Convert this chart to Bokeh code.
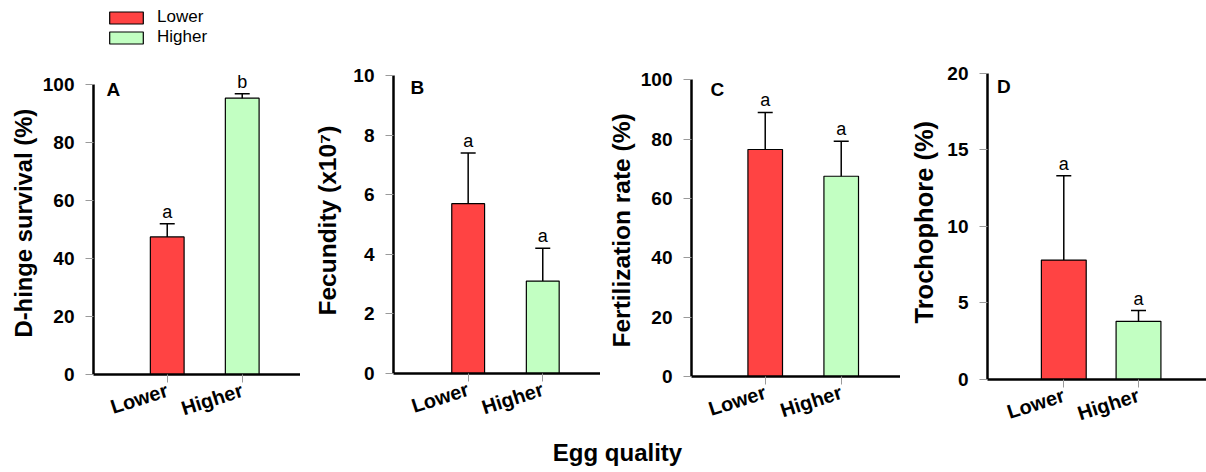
from bokeh.plotting import figure
from bokeh.models import (Range1d, FixedTicker, ColumnDataSource, Whisker, TeeHead,
                          Label, Legend, LegendItem, Title)
from bokeh.layouts import row, column
from bokeh.embed import file_html
from bokeh.resources import INLINE
from bokeh.core.properties import value

FONT = "Liberation Sans"

# ---------------- data ----------------
categories = ["Lower", "Higher"]
colors = ["#FF4343", "#C2FFC2"]

panel_letters = ["A", "B", "C", "D"]
y_labels = ["D-hinge survival (%)", "Fecundity (x10\u2077)", "Fertilization rate (%)", "Trochophore (%)"]

dhinge_mean = [47.5, 95.4]
dhinge_err = [4.5, 1.5]
dhinge_sig = ["a", "b"]

fecundity_mean = [5.7, 3.1]
fecundity_err = [1.7, 1.1]
fecundity_sig = ["a", "a"]

fert_mean = [76.5, 67.5]
fert_err = [12.5, 11.8]
fert_sig = ["a", "a"]

troch_mean = [7.8, 3.8]
troch_err = [5.5, 0.7]
troch_sig = ["a", "a"]

y_max = [100, 10, 100, 20]
y_ticks = [[0, 20, 40, 60, 80, 100],
           [0, 2, 4, 6, 8, 10],
           [0, 20, 40, 60, 80, 100],
           [0, 5, 10, 15, 20]]

x_title = "Egg quality"

means = [dhinge_mean, fecundity_mean, fert_mean, troch_mean]
errs = [dhinge_err, fecundity_err, fert_err, troch_err]
sigs = [dhinge_sig, fecundity_sig, fert_sig, troch_sig]

# ---------------- layout specs (pixels) ----------------
ROW_H = 440
BASE_FIX = 6  # baseline correction for text
specs = [
    dict(w=300, left=93, top=84.3, bottom=374, xr=(0.017, 2.777), bw=0.45, lx=13, lb=95.0,
         std=6, loff=37, lfs="23.8px"),
    dict(w=300, left=93, top=75.0, bottom=373, xr=(-0.001, 2.774), bw=0.44, lx=17, lb=93.3,
         std=19, loff=58, lfs="24.5px"),
    dict(w=300, left=91, top=79.3, bottom=376, xr=(0.03, 2.78), bw=0.455, lx=19, lb=95.0,
         std=6, loff=29, lfs="24.5px"),
    dict(w=306, left=87, top=72.7, bottom=379, xr=(-0.021, 2.91), bw=0.6, lx=9.5, lb=91.7,
         std=13, loff=56, lfs="25.5px"),
]

panels = []
for k in range(4):
    s = specs[k]
    xs = [i + 1 for i in range(len(categories))]
    upper = [m + e for m, e in zip(means[k], errs[k])]
    src = ColumnDataSource(dict(x=xs, top=means[k], upper=upper, color=colors,
                                sig=sigs[k], cat=categories))
    y_end = y_max[k] * s["bottom"] / (s["bottom"] - s["top"])
    p = figure(width=s["w"], height=ROW_H, output_backend="svg", toolbar_location=None,
               x_range=Range1d(*s["xr"]), y_range=Range1d(0, y_end),
               min_border=0)
    p.min_border_left = s["left"]
    p.min_border_right = 0
    p.min_border_top = 0
    p.min_border_bottom = ROW_H - s["bottom"]
    p.outline_line_color = None
    p.xgrid.visible = False
    p.ygrid.visible = False
    p.background_fill_color = "white"
    p.border_fill_color = "white"

    bars = p.vbar(x="x", top="top", bottom=0, width=s["bw"], fill_color="color",
                  line_color="black", line_width=1.2, source=src)

    wh = Whisker(source=src, base="x", upper="upper", lower="top",
                 upper_head=TeeHead(size=15, line_width=1.5, line_color="black"),
                 lower_head=None, line_width=1.5, line_color="black", level="glyph")
    p.add_layout(wh)

    p.text(x="x", y="upper", text="sig", text_align="center", text_baseline="alphabetic",
           y_offset=-6 - BASE_FIX, text_font=value(FONT), text_font_size="18px",
           text_color="black", source=src)

    # axes
    p.xaxis.ticker = FixedTicker(ticks=xs)
    p.xaxis.major_label_overrides = {x: c for x, c in zip(xs, categories)}
    p.xaxis.major_label_orientation = 0.31
    p.yaxis.ticker = FixedTicker(ticks=y_ticks[k])
    p.yaxis.bounds = (0, y_max[k])
    for ax in (p.xaxis[0], p.yaxis[0]):
        ax.axis_line_width = 2.5
        ax.axis_line_color = "black"
        ax.major_tick_in = 0
        ax.major_tick_out = 8
        ax.major_tick_line_color = "#9a9a9a"
        ax.major_tick_line_width = 1
        ax.minor_tick_line_color = None
        ax.major_label_text_font = FONT
        ax.major_label_text_font_style = "bold"
        ax.major_label_text_color = "black"
    p.yaxis.major_label_text_font_size = "19px"
    p.yaxis.major_label_standoff = 11
    p.xaxis.major_label_text_font_size = "20px"
    p.xaxis.major_label_standoff = 7

    # y-axis title, placed along the axis extent
    p.add_layout(Title(text=y_labels[k], align="left", offset=s["loff"], standoff=s["std"],
                       text_font=FONT, text_font_size=s["lfs"], text_font_style="bold",
                       text_color="black"), "left")

    p.add_layout(Label(x=s["lx"], y=s["bottom"] - s["lb"] + BASE_FIX,
                       x_units="screen", y_units="screen",
                       text=panel_letters[k], text_font=FONT, text_font_size="19px",
                       text_font_style="bold", text_color="black",
                       text_baseline="alphabetic", text_align="left"))

    if k == 0:
        legend = Legend(items=[LegendItem(label=categories[i], renderers=[bars], index=i)
                               for i in range(len(categories))],
                        location=(12, s["bottom"] - 47), orientation="vertical",
                        glyph_width=42, glyph_height=15, label_height=20, label_width=40,
                        spacing=0, padding=0, margin=0, label_standoff=10,
                        label_text_font=FONT, label_text_font_size="17px",
                        label_text_color="black",
                        border_line_color=None, background_fill_alpha=0)
        p.add_layout(legend)
    panels.append(column(p))

# bottom title strip
TH = 472 - ROW_H
pt = figure(width=1206, height=TH, output_backend="svg", toolbar_location=None,
            x_range=Range1d(0, 1206), y_range=Range1d(0, TH), min_border=0)
pt.xaxis.visible = False
pt.yaxis.visible = False
pt.xgrid.visible = False
pt.ygrid.visible = False
pt.outline_line_color = None
pt.add_layout(Label(x=617, y=TH - 459 + ROW_H + 7, text=x_title, text_align="center",
                    text_baseline="alphabetic", text_font=FONT, text_font_size="24px",
                    text_font_style="bold", text_color="black"))

layout = column(row(*panels), pt)
open("out.html", "w").write(file_html(layout, INLINE))
